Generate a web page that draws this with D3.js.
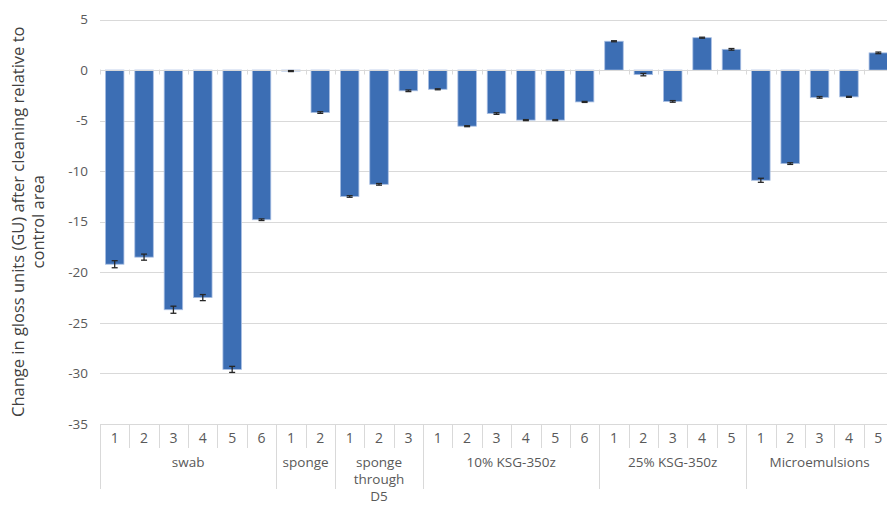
<!DOCTYPE html>
<html>
<head>
<meta charset="utf-8">
<script src="https://cdn.jsdelivr.net/npm/d3@7"></script>
<style>
  body { margin: 0; background: #fff; }
  svg { display: block; }
</style>
</head>
<body>
<script>
const groups = ['swab', 'sponge', 'sponge through D5', '10% KSG-350z', '25% KSG-350z', 'Microemulsions'];
const groupLines = [['swab'], ['sponge'], ['sponge', 'through', 'D5'], ['10% KSG-350z'], ['25% KSG-350z'], ['Microemulsions']];
const groupSizes = [6, 2, 3, 6, 5, 5];
const values = [
  -19.2, -18.5, -23.7, -22.5, -29.6, -14.8,
  -0.1, -4.2,
  -12.5, -11.3, -2.05,
  -1.9, -5.55, -4.3, -4.95, -4.95, -3.15,
  2.85, -0.45, -3.1, 3.2, 2.05,
  -10.9, -9.25, -2.7, -2.65, 1.7
];
const errors = [
  0.35, 0.3, 0.35, 0.3, 0.3, 0.08,
  0.05, 0.08,
  0.08, 0.08, 0.08,
  0.05, 0.05, 0.08, 0.05, 0.05, 0.05,
  0.05, 0.12, 0.08, 0.05, 0.08,
  0.2, 0.08, 0.08, 0.05, 0.08
];
const yTicks = [5, 0, -5, -10, -15, -20, -25, -30, -35];

const width = 887;
const height = 506;
const plotLeft = 100, plotRight = 893, plotTop = 19.5, plotBottom = 424;

// flat list of sub-items with their index inside the group
const items = [];
groupSizes.forEach((n, g) => d3.range(n).forEach(k => items.push({ g, k: k + 1 })));
items.forEach((d, i) => { d.value = values[i]; d.err = errors[i]; d.i = i; });

const x = d3.scaleBand().domain(d3.range(items.length)).range([plotLeft, plotRight]).padding(0);
const y = d3.scaleLinear().domain([-35, 5]).range([plotBottom, plotTop]);

const svg = d3.select('body').append('svg')
  .attr('width', width)
  .attr('height', height)
  .style('font-family', 'Open Sans, sans-serif');

const grid = '#d9d9d9';

svg.append('g')
  .selectAll('line')
  .data(yTicks.filter(t => t !== 0 && t !== -35))
  .join('line')
    .attr('x1', plotLeft).attr('x2', width)
    .attr('y1', d => Math.round(y(d)) + 0.5).attr('y2', d => Math.round(y(d)) + 0.5)
    .attr('stroke', grid);

svg.append('g')
  .selectAll('text')
  .data(yTicks)
  .join('text')
    .attr('x', 88)
    .attr('y', d => y(d))
    .attr('dy', '0.35em')
    .attr('text-anchor', 'end')
    .attr('fill', '#595959')
    .style('font-size', '13.5px')
    .text(d => d);

// bars
const bw = x.bandwidth() * 0.63;
svg.append('g')
  .selectAll('rect')
  .data(items)
  .join('rect')
    .attr('x', d => x(d.i) + (x.bandwidth() - bw) / 2)
    .attr('width', bw)
    .attr('y', d => y(Math.max(0, d.value)))
    .attr('height', d => Math.abs(y(d.value) - y(0)))
    .attr('fill', '#3c6eb4')
    .attr('stroke', '#a9bfe3')
    .attr('stroke-width', 0.8);

// zero axis with ticks
const zy = Math.round(y(0)) + 0.5;
svg.append('line')
  .attr('x1', plotLeft).attr('x2', width)
  .attr('y1', zy).attr('y2', zy)
  .attr('stroke', grid);
svg.append('g')
  .selectAll('line')
  .data(d3.range(items.length + 1))
  .join('line')
    .attr('x1', i => Math.round(plotLeft + i * x.step()) + 0.5)
    .attr('x2', i => Math.round(plotLeft + i * x.step()) + 0.5)
    .attr('y1', zy - 1).attr('y2', zy + 4)
    .attr('stroke', grid);

// error bars
const eb = svg.append('g')
  .attr('stroke', '#262626')
  .attr('stroke-width', 1.3)
  .selectAll('g')
  .data(items)
  .join('g')
    .attr('transform', d => `translate(${x(d.i) + x.bandwidth() / 2},0)`);
eb.append('line')
  .attr('y1', d => y(d.value - d.err)).attr('y2', d => y(d.value + d.err));
eb.append('line')
  .attr('x1', -3).attr('x2', 3)
  .attr('y1', d => y(d.value - d.err)).attr('y2', d => y(d.value - d.err));
eb.append('line')
  .attr('x1', -3).attr('x2', 3)
  .attr('y1', d => y(d.value + d.err)).attr('y2', d => y(d.value + d.err));

// category axis box
const ax = svg.append('g').attr('stroke', grid);
ax.append('line')
  .attr('x1', plotLeft).attr('x2', width)
  .attr('y1', plotBottom + 0.5).attr('y2', plotBottom + 0.5);
ax.selectAll('.sub')
  .data(d3.range(items.length + 1))
  .join('line')
    .attr('class', 'sub')
    .attr('x1', i => Math.round(plotLeft + i * x.step()) + 0.5)
    .attr('x2', i => Math.round(plotLeft + i * x.step()) + 0.5)
    .attr('y1', plotBottom).attr('y2', plotBottom + 24);
const bounds = [0, ...d3.cumsum(groupSizes)];
ax.selectAll('.grp')
  .data(bounds)
  .join('line')
    .attr('class', 'grp')
    .attr('x1', i => Math.round(plotLeft + i * x.step()) + 0.5)
    .attr('x2', i => Math.round(plotLeft + i * x.step()) + 0.5)
    .attr('y1', plotBottom).attr('y2', 489);

svg.append('g')
  .selectAll('text')
  .data(items)
  .join('text')
    .attr('x', d => x(d.i) + x.bandwidth() / 2)
    .attr('y', 443)
    .attr('text-anchor', 'middle')
    .attr('fill', '#595959')
    .style('font-size', '14px')
    .text(d => d.k);

svg.append('g')
  .selectAll('text')
  .data(groups)
  .join('text')
    .attr('x', (d, g) => plotLeft + (bounds[g] + bounds[g + 1]) / 2 * x.step())
    .attr('y', 467)
    .attr('text-anchor', 'middle')
    .attr('fill', '#595959')
    .style('font-size', '13.5px')
    .selectAll('tspan')
    .data((d, g) => groupLines[g])
    .join('tspan')
      .attr('x', function() { return this.parentNode.getAttribute('x'); })
      .attr('dy', (d, j) => j ? 17 : 0)
      .text(d => d);

// y axis title
svg.append('text')
  .attr('transform', `translate(24,${(plotTop + plotBottom) / 2}) rotate(-90)`)
  .attr('text-anchor', 'middle')
  .attr('fill', '#404040')
  .style('font-size', '16.5px')
  .selectAll('tspan')
  .data(['Change in gloss units (GU) after cleaning relative to', 'control area'])
  .join('tspan')
    .attr('x', 0)
    .attr('dy', (d, j) => j ? 20 : 0)
    .text(d => d);
</script>
</body>
</html>
